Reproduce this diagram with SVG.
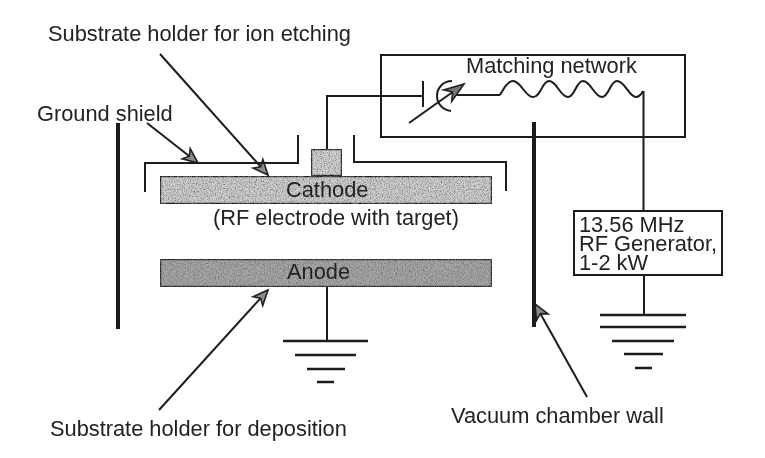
<svg xmlns="http://www.w3.org/2000/svg" width="765" height="458" viewBox="0 0 765 458">
<style>
text{font-family:"Liberation Sans",Arial,sans-serif;font-size:21.800px;fill:#222}
.w{fill:none;stroke:#1c1c1c;stroke-width:2;stroke-linecap:butt;stroke-linejoin:miter}
.t{fill:none;stroke:#1c1c1c;stroke-width:4}
.a{fill:none;stroke:#1c1c1c;stroke-width:2;marker-end:url(#head)}
.g{fill:none;stroke:#1c1c1c;stroke-width:2.400}
.b{stroke:#1c1c1c;stroke-width:2.400;filter:url(#grain)}
</style>
<defs>
<marker id="head" markerUnits="userSpaceOnUse" markerWidth="20" markerHeight="18" refX="15" refY="9" orient="auto" overflow="visible">
<path d="M15,9 L0,2.500 L4,9 L0,15.500 Z" fill="#8a8a8a" stroke="#222" stroke-width="1.600"/>
</marker>
<marker id="head-lg" markerUnits="userSpaceOnUse" markerWidth="24" markerHeight="18" refX="20" refY="9" orient="auto" overflow="visible">
<path d="M20,9 L0,2 L6,9 L0,16 Z" fill="#777" stroke="#222" stroke-width="1.600"/>
</marker>
<filter id="grain" x="0" y="0" width="100%" height="100%">
<feTurbulence type="fractalNoise" baseFrequency="0.85" numOctaves="2" seed="4" result="n"/>
<feColorMatrix in="n" type="matrix" values="0 0 0 0 0.15 0 0 0 0 0.15 0 0 0 0 0.15 2.200 0 0 0 -0.850" result="s"/>
<feComposite in="s" in2="SourceGraphic" operator="in" result="c"/>
<feMerge><feMergeNode in="SourceGraphic"/><feMergeNode in="c"/></feMerge>
</filter>
<filter id="soft" x="0" y="0" width="100%" height="100%" filterUnits="userSpaceOnUse"><feGaussianBlur stdDeviation="0.45"/></filter>
</defs>
<rect width="765" height="458" fill="#fff"/>
<g filter="url(#soft)">
<g id="connectors">
<path class="w" d="M327,149 V96 H423"/>
<path class="w" d="M453,95 H500"/>
<path class="w" d="M500,95 C504,88 508,81 513,81 C521,81 525,97 533,97 C541,97 542,81 549,81 C557,81 560,97 568,97 C575,97 576,81 583,81 C591,81 594,97 602,97 C609,97 610,81 617,81 C625,81 629,97 636,97 C639,97 641,95 643,91"/>
<path class="w" d="M643.500,91 V211"/>
<path class="w" d="M644,275 V315"/>
<path class="w" d="M327,287 V341"/>
<path class="a" d="M160,54 L268,175"/>
<path class="a" d="M147,123 L198,163"/>
<path class="a" d="M159,410 L268,290"/>
<path class="a" d="M587,397 L535,304"/>
</g>
<g id="matching-network">
<rect class="w" x="381" y="55" width="304" height="82"/>
<path class="w" d="M423,81 V107"/>
<path class="w" d="M452,81 C443,81 437,88 437,96 C437,104 443,110 451,111"/>
<path class="a" style="marker-end:url(#head-lg)" d="M409,123 L464,84"/>
<text x="466" y="73">Matching network</text>
</g>
<g id="ground-shield">
<path class="w" d="M145,192 V163 H298 V135"/>
<path class="w" d="M354,135 V162 H506 V191"/>
</g>
<g id="left-wall"><path class="t" d="M118,123 V329"/></g>
<g id="vacuum-chamber-wall"><path class="t" d="M534,122 V327"/></g>
<g id="target-block"><rect class="b" x="311" y="149" width="31" height="27" fill="#d6d6d6"/></g>
<g id="cathode">
<rect class="b" x="160" y="176" width="332" height="28" fill="#d2d2d2"/>
<text x="286" y="197">Cathode</text>
<text x="213" y="225">(RF electrode with target)</text>
</g>
<g id="anode">
<rect class="b" x="160" y="259" width="332" height="28" fill="#a8a8a8"/>
<text x="287" y="279">Anode</text>
</g>
<g id="rf-generator">
<rect class="w" x="574" y="211" width="148" height="64"/>
<text><tspan x="579" y="232">13.56 MHz</tspan><tspan x="579" y="251">RF Generator,</tspan><tspan x="579" y="270">1-2 kW</tspan></text>
</g>
<g id="ground-anode">
<path class="g" d="M283,341 H368 M295,355 H356 M307,369 H345 M317,382 H334"/>
</g>
<g id="ground-generator">
<path class="g" d="M600,315 H686 M600,327 H686 M612,341 H674 M624,354 H663 M635,368 H652"/>
</g>
<g id="labels">
<text x="48" y="41">Substrate holder for ion etching</text>
<text x="37" y="121">Ground shield</text>
<text x="50" y="436">Substrate holder for deposition</text>
<text x="451" y="423">Vacuum chamber wall</text>
</g>
</g>
</svg>
